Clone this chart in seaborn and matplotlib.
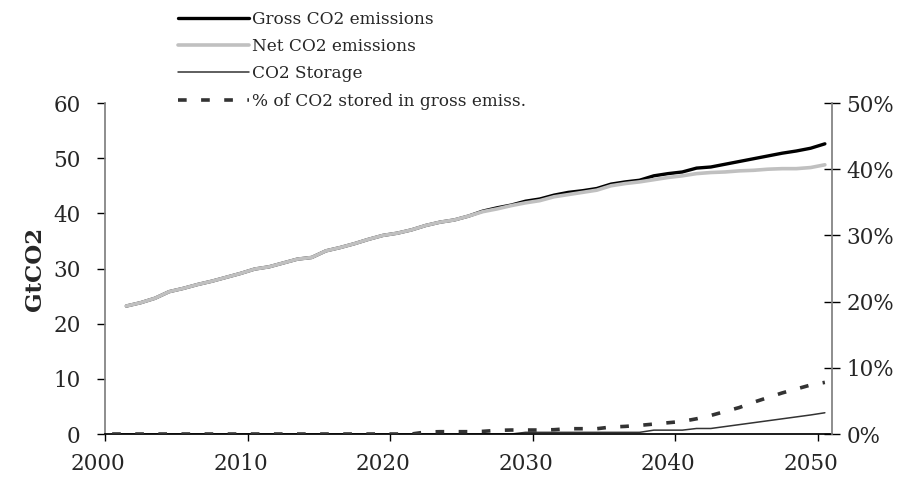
import numpy as np
import pandas as pd
import matplotlib
matplotlib.use("Agg")
import matplotlib.pyplot as plt
from matplotlib.ticker import FuncFormatter
from matplotlib.transforms import ScaledTranslation
import seaborn as sns

# ---------------- data ----------------
all_years = list(range(2000, 2051))
emission_years = list(range(2001, 2051))

gross_co2 = [23.2, 23.8, 24.6, 25.8, 26.4, 27.1, 27.7, 28.4, 29.1, 29.9,
             30.3, 31.0, 31.7, 32.0, 33.2, 33.8, 34.5, 35.3, 36.0, 36.4,
             37.0, 37.8, 38.4, 38.8, 39.5, 40.4, 41.0, 41.5, 42.2, 42.6,
             43.3, 43.8, 44.1, 44.5, 45.3, 45.7, 46.0, 46.8, 47.2, 47.5,
             48.2, 48.4, 48.9, 49.4, 49.9, 50.4, 50.9, 51.3, 51.8, 52.6]

net_co2 = [23.2, 23.8, 24.6, 25.8, 26.4, 27.1, 27.7, 28.4, 29.1, 29.9,
           30.3, 31.0, 31.7, 32.0, 33.2, 33.8, 34.5, 35.3, 36.0, 36.4,
           37.0, 37.8, 38.4, 38.8, 39.5, 40.3, 40.8, 41.4, 41.9, 42.3,
           43.0, 43.4, 43.8, 44.2, 45.0, 45.4, 45.7, 46.1, 46.5, 46.8,
           47.2, 47.4, 47.5, 47.7, 47.8, 48.0, 48.1, 48.1, 48.3, 48.8]

co2_storage = [0.0] * 29 + [0.3] * 9 + [0.7, 0.7, 0.7, 1.0, 1.0,
               1.35, 1.7, 2.05, 2.4, 2.75, 3.1, 3.45, 3.85]

pct_stored = [0.0] * 22 + [0.3, 0.35, 0.35, 0.35, 0.4, 0.55, 0.6, 0.6, 0.6,
              0.65, 0.8, 0.8, 0.8, 1.05, 1.15, 1.3, 1.5, 1.7, 1.9,
              2.3, 2.8, 3.4, 4.0, 4.8, 5.5, 6.2, 6.8, 7.4, 7.8]

series_labels = ["Gross CO2 emissions", "Net CO2 emissions", "CO2 Storage",
                 "% of CO2 stored in gross emiss."]
x_tick_labels = ["2000", "2010", "2020", "2030", "2040", "2050"]
y_ticks = [0, 10, 20, 30, 40, 50, 60]
y2_ticks = [0, 10, 20, 30, 40, 50]
y_label = "GtCO2"

# ---------------- style ----------------
sns.set_theme(style="white")
plt.rcParams["font.family"] = ["DejaVu Serif", "DejaVu Sans"]

W, H = 911, 486
fig = plt.figure(figsize=(W / 100, H / 100), dpi=100)
ax = fig.add_axes([105 / W, 52 / H, 727 / W, 331 / H])
ax2 = ax.twinx()

df_em = pd.DataFrame({"year": emission_years, "gross": gross_co2, "net": net_co2})
df_all = pd.DataFrame({"year": all_years, "storage": co2_storage, "pct": pct_stored})

sns.lineplot(data=df_em, x="year", y="gross", ax=ax, color="black",
             linewidth=2.4, label=series_labels[0], legend=False)
sns.lineplot(data=df_em, x="year", y="net", ax=ax, color="#c0c0c0",
             linewidth=2.6, label=series_labels[1], legend=False)
sns.lineplot(data=df_all, x="year", y="storage", ax=ax, color="#333333",
             linewidth=1.1, label=series_labels[2], legend=False)
sns.lineplot(data=df_all, x="year", y="pct", ax=ax2, color="#333333",
             linewidth=2.6, linestyle=(0, (2.4, 4.0)), dash_capstyle="butt",
             label=series_labels[3], legend=False)

# axes ranges: categories with ticks between them
ax.set_xlim(all_years[0] - 0.5, all_years[-1] + 0.5)
ax.set_ylim(0, 60)
ax2.set_ylim(0, 50)
tick_pos = [int(t) - 0.5 for t in x_tick_labels]
ax.set_xticks(tick_pos)
ax.set_xticklabels(x_tick_labels)
ax.set_yticks(y_ticks)
ax2.set_yticks(y2_ticks)
ax2.yaxis.set_major_formatter(FuncFormatter(lambda v, p: f"{v:.0f}%"))

ax.set_xlabel("")
ax.set_ylabel(y_label, fontsize=16.5, fontweight="bold", labelpad=5)
ax2.set_ylabel("")

for a in (ax, ax2):
    a.grid(False)
    a.set_facecolor("none")
    for s in a.spines.values():
        s.set_visible(False)
ax.spines["left"].set_visible(True)
ax.spines["left"].set_color("#808080")
ax.spines["bottom"].set_visible(True)
ax.spines["bottom"].set_color("black")
ax2.spines["right"].set_visible(True)
ax2.spines["right"].set_color("#808080")

ax.tick_params(axis="y", direction="out", length=5.5, width=1, color="black",
               labelsize=15.5, pad=12, left=True)
ax.tick_params(axis="x", direction="out", length=5, width=1, color="black",
               labelsize=15.5, pad=9, bottom=True)
ax2.tick_params(axis="y", direction="inout", length=11, width=1, color="black",
                labelsize=15.5, pad=5, right=True)

shift = ScaledTranslation(-7 / 100, 0, fig.dpi_scale_trans)
for lbl in ax.get_xticklabels():
    lbl.set_transform(lbl.get_transform() + shift)

# legend (combined, above the plot)
h1, l1 = ax.get_legend_handles_labels()
h2, l2 = ax2.get_legend_handles_labels()
fig.legend(h1 + h2, l1 + l2, loc="upper left",
           bbox_to_anchor=(178 / W, 1 - 11 / H), frameon=False,
           fontsize=12.2, handlelength=4.2, handletextpad=0.15,
           labelspacing=0.6, borderpad=0, borderaxespad=0)

fig.savefig("out.png", dpi=100)
